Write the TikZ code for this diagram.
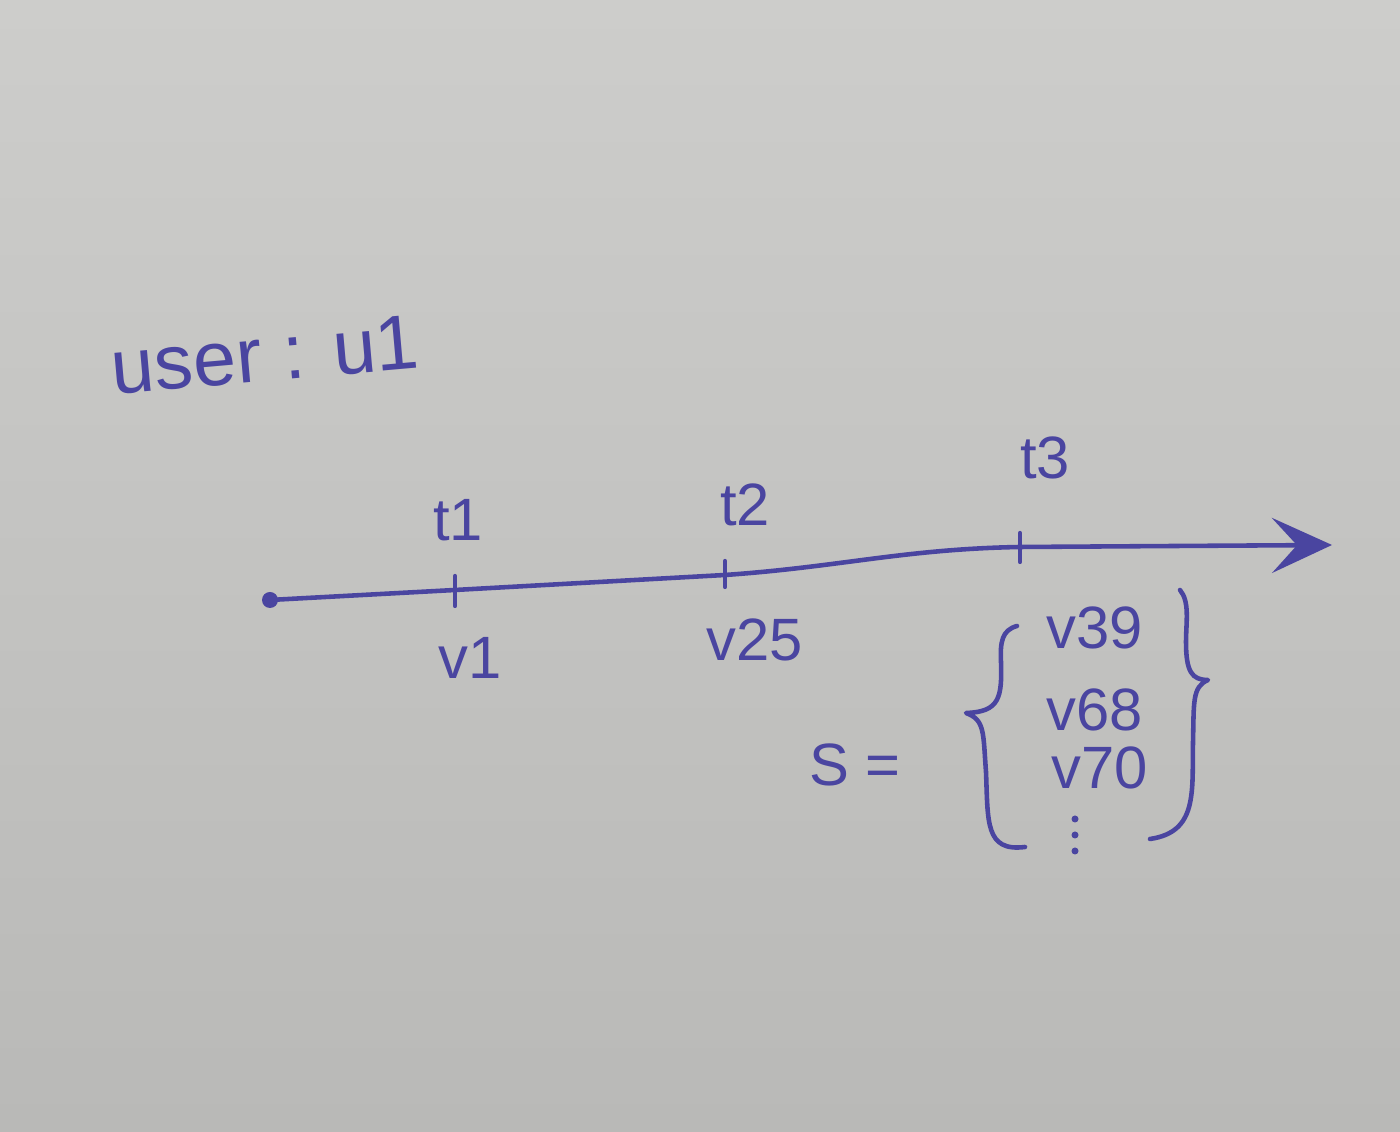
\documentclass[tikz,border=0pt]{standalone}
\usepackage{fontspec}
\setmainfont{Liberation Sans}
\usepackage{tikz}
\usetikzlibrary{arrows.meta,positioning,calc}
\definecolor{ink}{HTML}{4A45A0}
\definecolor{paperhi}{HTML}{CDCDCB}
\definecolor{paperlo}{HTML}{B9B9B7}

\begin{document}
\begin{tikzpicture}[>=Stealth,
hand/.style={text=ink,font=\fontsize{17}{20}\selectfont,inner sep=1pt},
pen/.style={draw=ink,line width=1.3pt,line cap=round,line join=round},
tick/.style={pen,line width=1.2pt}]
% paper
\shade[top color=paperhi,bottom color=paperlo] (0,0) rectangle (14,11.32);
\useasboundingbox (0,0) rectangle (14,11.32);
\node[hand,rotate=5,font=\fontsize{22}{26}\selectfont] (user) at (2.65,7.77) {user : u1};
% timeline
\coordinate (start) at (2.70,5.32);
\coordinate (p1) at (4.55,5.42);
\coordinate (p2) at (7.25,5.57);
\coordinate (p3) at (10.20,5.85);
\coordinate (end) at (13.32,5.87);
\fill[ink] (start) circle (0.08);
\draw[pen,-{Stealth[length=6mm,width=5.5mm,inset=2.5mm]}] (start)--(p1)--(p2) to[out=4,in=181] (p3)--(end);
\draw[tick] ($(p1)+(0,0.14)$)--($(p1)+(0,-0.16)$);
\draw[tick] ($(p2)+(0,0.14)$)--($(p2)+(0,-0.12)$);
\draw[tick] ($(p3)+(0,0.14)$)--($(p3)+(0,-0.15)$);
\node[hand] (t1) at (4.58,6.12) {t1};
\node[hand] (t2) at (7.45,6.27) {t2};
\node[hand] (t3) at (10.45,6.74) {t3};
\node[hand] (v1) at (4.70,4.74) {v1};
\node[hand] (v25) at (7.55,4.92) {v25};
% the set
\node[hand] (s) at (8.55,3.67) {S =};
\node[hand] (v39) at (10.95,5.04) {v39};
\node[hand] (v68) at (10.95,4.22) {v68};
\node[hand] (v70) at (11.00,3.64) {v70};
\coordinate (dots) at (10.75,2.97);
\foreach \dy in {0.16,0,-0.16} \fill[ink] ($(dots)+(0,\dy)$) circle (0.035);
\draw[pen] (10.17,5.06) .. controls (10.02,5.02) and (10.00,4.90) .. (10.01,4.70)
  .. controls (10.02,4.35) and (10.00,4.20) .. (9.66,4.19)
  .. controls (9.85,4.12) and (9.83,4.00) .. (9.86,3.60)
  .. controls (9.88,3.10) and (9.85,2.80) .. (10.25,2.85);
\draw[pen] (11.80,5.42) .. controls (11.90,5.30) and (11.86,5.10) .. (11.86,4.90)
  .. controls (11.86,4.60) and (11.92,4.52) .. (12.08,4.52)
  .. controls (11.92,4.45) and (11.94,4.30) .. (11.93,3.90)
  .. controls (11.92,3.40) and (11.98,3.00) .. (11.50,2.93);
\end{tikzpicture}
\end{document}
